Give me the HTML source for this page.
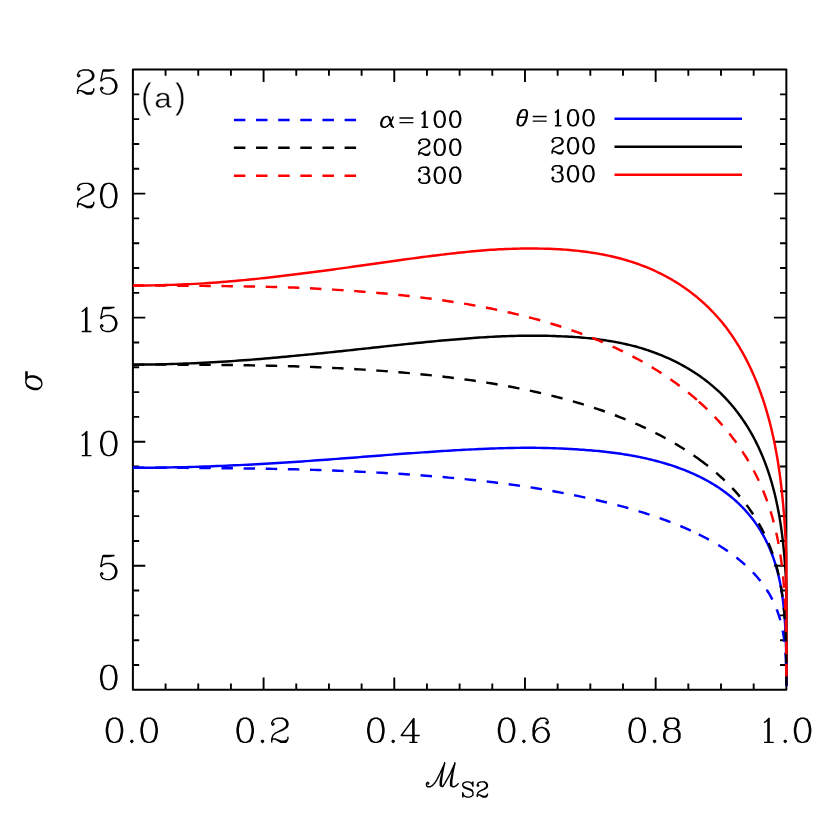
<!DOCTYPE html><html lang="en"><head><meta charset="utf-8"><title>plot</title><style>html,body{margin:0;padding:0;background:#fff;font-family:"Liberation Sans",sans-serif}svg{display:block}</style></head><body>
<svg width="830" height="830" viewBox="0 0 830 830" role="img" aria-label="Plot (a): sigma versus M_S2 for alpha = 100, 200, 300 (dashed) and theta = 100, 200, 300 (solid)">
<desc>(a) sigma vs M_S2; x axis 0.0 0.2 0.4 0.6 0.8 1.0; y axis 0 5 10 15 20 25; legend: alpha=100 200 300 dashed, theta=100 200 300 solid; blue, black, red</desc>
<rect width="830" height="830" fill="#fff"/>
<defs><path id="g0" d="M9 -12 6 -11 4 -8 3 -3 3 0 4 5 6 8 9 9 11 9 14 8 16 5 17 0 17 -3 16 -8 14 -11 11 -12 9 -12M9 -12 7 -11 6 -10 5 -8 4 -3 4 0 5 5 6 7 7 8 9 9M11 9 13 8 14 7 15 5 16 0 16 -3 15 -8 14 -10 13 -11 11 -12"/><path id="g1" d="M6.6 -8.3 8 -9 11 -12 11 9M10 -11 10 9M6.6 9 15.0 9"/><path id="g2" d="M4 -8 5 -7 4 -6 3 -7 3 -8 4 -10 5 -11 8 -12 12 -12 15 -11 16 -10 17 -8 17 -6 16 -4 13 -2 8 0 6 1 4 3 3 6 3 9M12 -12 14 -11 15 -10 16 -8 16 -6 15 -4 12 -2 8 0M3 7 4 6 6 6 11 8 14 8 16 7 17 6M6 6 11 9 15 9 16 8 17 6 17 4"/><path id="g3" d="M4 -8 5 -7 4 -6 3 -7 3 -8 4 -10 5 -11 8 -12 12 -12 15 -11 16 -9 16 -6 15 -4 12 -3 9 -3M12 -12 14 -11 15 -9 15 -6 14 -4 12 -3M12 -3 14 -2 16 0 17 2 17 5 16 7 15 8 12 9 8 9 5 8 4 7 3 5 3 4 4 3 5 4 4 5M15 -1 16 2 16 5 15 7 14 8 12 9"/><path id="g4" d="M12 -10 12 9M13 -12 13 9M13 -12 2 3 18 3M9 9 16 9"/><path id="g5" d="M5 -12 3 -2M3 -2 5 -4 8 -5 11 -5 14 -4 16 -2 17 1 17 3 16 6 14 8 11 9 8 9 5 8 4 7 3 5 3 4 4 3 5 4 4 5M11 -5 13 -4 15 -2 16 1 16 3 15 6 13 8 11 9M5 -12 15 -12M5 -11 10 -11 15 -12"/><path id="g6" d="M15 -9 14 -8 15 -7 16 -8 16 -9 15 -11 13 -12 10 -12 7 -11 5 -9 4 -7 3 -3 3 3 4 6 6 8 9 9 11 9 14 8 16 6 17 3 17 2 16 -1 14 -3 11 -4 10 -4 7 -3 5 -1 4 2M10 -12 8 -11 6 -9 5 -7 4 -3 4 3 5 6 7 8 9 9M11 9 13 8 15 6 16 3 16 2 15 -1 13 -3 11 -4"/><path id="g7" d="M3 -12 3 -6M3 -8 4 -10 6 -12 8 -12 13 -9 15 -9 16 -10 17 -12M4 -10 6 -11 8 -11 13 -9M17 -12 17 -9 16 -6 12 -1 11 1 10 4 10 9M16 -6 11 -1 10 1 9 4 9 9"/><path id="g8" d="M8 -12 5 -11 4 -9 4 -6 5 -4 8 -3 12 -3 15 -4 16 -6 16 -9 15 -11 12 -12 8 -12M8 -12 6 -11 5 -9 5 -6 6 -4 8 -3M12 -3 14 -4 15 -6 15 -9 14 -11 12 -12M8 -3 5 -2 4 -1 3 1 3 5 4 7 5 8 8 9 12 9 15 8 16 7 17 5 17 1 16 -1 15 -2 12 -3M8 -3 6 -2 5 -1 4 1 4 5 5 7 6 8 8 9M12 9 14 8 15 7 16 5 16 1 15 -1 14 -2 12 -3"/><path id="g9" d="M16 -5 15 -2 13 0 10 1 9 1 6 0 4 -2 3 -5 3 -6 4 -9 6 -11 9 -12 11 -12 14 -11 16 -9 17 -6 17 0 16 4 15 6 13 8 10 9 7 9 5 8 4 6 4 5 5 4 6 5 5 6M9 1 7 0 5 -2 4 -5 4 -6 5 -9 7 -11 9 -12M11 -12 13 -11 15 -9 16 -6 16 0 15 4 14 6 12 8 10 9"/><path id="g10" d="M5 7 4 8 5 9 6 8 5 7" fill="#000"/><path id="g11" d="M4 -3 22 -3M4 3 22 3"/><path id="g12" d="M16 -9 17 -12 17 -6 16 -9 14 -11 11 -12 8 -12 5 -11 3 -9 3 -7 4 -5 5 -4 7 -3 13 -1 15 0 17 2M3 -7 5 -5 7 -4 13 -2 15 -1 16 0 17 2 17 6 15 8 12 9 9 9 6 8 4 6 3 3 3 9 4 6"/><path id="g13" d="M10 -5 7 -4 5 -2 4 0 3 3 3 6 4 8 7 9 9 9 11 8 14 5 16 2 18 -2 19 -5M10 -5 8 -4 6 -2 5 0 4 3 4 6 5 8 7 9M10 -5 12 -5 14 -4 15 -2 17 6 18 8 19 9M12 -5 13 -4 14 -2 16 6 17 8 19 9 20 9"/><path id="g14" d="M19 -5 9 -5 6 -4 4 -1 3 2 3 5 4 7 5 8 7 9 9 9 12 8 14 5 15 2 15 -1 14 -3 13 -4 11 -5M9 -5 7 -4 5 -1 4 2 4 6 5 8M9 9 11 8 13 5 14 2 14 -2 13 -4M13 -4 19 -4"/><path id="g15" d="M11 -12 8 -11 6 -8 5 -6 4 -3 3 2 3 6 4 8 6 9 8 9 11 8 13 5 14 3 15 0 16 -5 16 -9 15 -11 13 -12 11 -12M11 -12 9 -11 7 -8 6 -6 5 -3 4 2 4 6 5 8 6 9M8 9 10 8 12 5 13 3 14 0 15 -5 15 -9 14 -11 13 -12M5 -2 14 -2"/><path id="g16" d="M14 -12 10 -3 7 3 5 6 3 8 1 9 -1 9 -2 8 -2 6 -1 5 0 6 -1 7M14 -12 12 -5 11 -1 10 4 10 8 12 9M14 -12 13 -8 12 -3 11 4 11 8 12 9M23 -12 19 -3 14 6 12 9M23 -12 21 -5 20 -1 19 4 19 8 21 9 22 9 24 8 26 6M23 -12 22 -8 21 -3 20 4 20 8 21 9"/><path id="g17" d="M11 -16 9 -14 7 -11 5 -7 4 -2 4 2 5 7 7 11 9 14 11 16"/><path id="g18" d="M3 -16 5 -14 7 -11 9 -7 10 -2 10 2 9 7 7 11 5 14 3 16"/><path id="g19" d="M15 -5 15 9M15 -2 13 -4 11 -5 8 -5 6 -4 4 -2 3 1 3 3 4 6 6 8 8 9 11 9 13 8 15 6"/></defs>
<g fill="none" stroke="#000" stroke-linecap="round" stroke-linejoin="round">
<rect x="132.9" y="69.55" width="653.45" height="620.25" stroke-width="2.0"/>
<path d="M165.57 689.8v-6.3M165.57 69.55v6.3M198.25 689.8v-6.3M198.25 69.55v6.3M230.92 689.8v-6.3M230.92 69.55v6.3M263.59 689.8v-12.4M263.59 69.55v12.4M296.26 689.8v-6.3M296.26 69.55v6.3M328.94 689.8v-6.3M328.94 69.55v6.3M361.61 689.8v-6.3M361.61 69.55v6.3M394.28 689.8v-12.4M394.28 69.55v12.4M426.95 689.8v-6.3M426.95 69.55v6.3M459.62 689.8v-6.3M459.62 69.55v6.3M492.30 689.8v-6.3M492.30 69.55v6.3M524.97 689.8v-12.4M524.97 69.55v12.4M557.64 689.8v-6.3M557.64 69.55v6.3M590.32 689.8v-6.3M590.32 69.55v6.3M622.99 689.8v-6.3M622.99 69.55v6.3M655.66 689.8v-12.4M655.66 69.55v12.4M688.33 689.8v-6.3M688.33 69.55v6.3M721.00 689.8v-6.3M721.00 69.55v6.3M753.68 689.8v-6.3M753.68 69.55v6.3M132.9 664.99h6.3M786.35 664.99h-6.3M132.9 640.18h6.3M786.35 640.18h-6.3M132.9 615.37h6.3M786.35 615.37h-6.3M132.9 590.56h6.3M786.35 590.56h-6.3M132.9 565.75h12.4M786.35 565.75h-12.4M132.9 540.94h6.3M786.35 540.94h-6.3M132.9 516.13h6.3M786.35 516.13h-6.3M132.9 491.32h6.3M786.35 491.32h-6.3M132.9 466.51h6.3M786.35 466.51h-6.3M132.9 441.70h12.4M786.35 441.70h-12.4M132.9 416.89h6.3M786.35 416.89h-6.3M132.9 392.08h6.3M786.35 392.08h-6.3M132.9 367.27h6.3M786.35 367.27h-6.3M132.9 342.46h6.3M786.35 342.46h-6.3M132.9 317.65h12.4M786.35 317.65h-12.4M132.9 292.84h6.3M786.35 292.84h-6.3M132.9 268.03h6.3M786.35 268.03h-6.3M132.9 243.22h6.3M786.35 243.22h-6.3M132.9 218.41h6.3M786.35 218.41h-6.3M132.9 193.60h12.4M786.35 193.60h-12.4M132.9 168.79h6.3M786.35 168.79h-6.3M132.9 143.98h6.3M786.35 143.98h-6.3M132.9 119.17h6.3M786.35 119.17h-6.3M132.9 94.36h6.3M786.35 94.36h-6.3" stroke-width="1.9" stroke-linecap="butt"/>
</g>
<clipPath id="cp"><rect x="129.9" y="69.55" width="659.45" height="616.45"/></clipPath>
<g fill="none" stroke-width="2.45" stroke-linejoin="round">
<g clip-path="url(#cp)">
<path d="M132.90 467.75 137.79 467.75 142.65 467.73 147.49 467.70 152.31 467.66 157.10 467.61 161.87 467.55 166.61 467.48 171.33 467.40 176.02 467.31 180.69 467.21 185.34 467.10 189.96 466.98 194.56 466.85 199.14 466.71 203.69 466.56 208.22 466.41 212.72 466.25 217.21 466.07 221.66 465.90 226.10 465.71 230.51 465.52 234.90 465.32 239.26 465.11 243.60 464.90 247.92 464.68 252.22 464.46 256.49 464.23 260.74 463.99 264.97 463.75 269.17 463.51 273.36 463.26 277.52 463.00 281.65 462.75 285.77 462.48 289.86 462.22 293.93 461.95 297.98 461.68 302.00 461.41 306.00 461.13 309.98 460.85 313.94 460.57 317.88 460.29 321.80 460.00 325.69 459.72 329.56 459.43 333.41 459.14 337.24 458.85 341.04 458.57 344.83 458.28 348.59 457.99 352.33 457.70 356.05 457.41 359.75 457.13 363.43 456.84 367.08 456.55 370.72 456.27 374.33 455.99 377.93 455.71 381.50 455.43 385.05 455.15 388.58 454.88 392.09 454.61 395.58 454.34 399.05 454.09 402.50 453.83 405.92 453.58 409.33 453.34 412.72 453.10 416.08 452.86 419.43 452.62 422.75 452.39 426.06 452.16 429.34 451.94 432.61 451.72 435.85 451.51 439.08 451.30 442.29 451.09 445.47 450.89 448.64 450.70 451.78 450.51 454.91 450.33 458.02 450.15 461.11 449.98 464.17 449.81 467.22 449.65 470.25 449.49 473.26 449.35 476.25 449.20 479.23 449.07 482.18 448.94 485.11 448.81 488.03 448.70 490.92 448.58 493.80 448.48 496.66 448.38 499.50 448.29 502.32 448.21 505.13 448.13 507.91 448.07 510.68 448.00 513.42 447.95 516.15 447.90 518.86 447.86 521.56 447.83 524.23 447.80 526.89 447.80 529.53 447.80 532.15 447.81 534.75 447.83 537.33 447.86 539.90 447.89 542.45 447.93 544.98 447.98 547.50 448.04 549.99 448.11 552.47 448.18 554.93 448.26 557.38 448.35 559.81 448.44 562.22 448.55 564.61 448.66 566.99 448.78 569.34 448.91 571.69 449.04 574.01 449.19 576.32 449.34 578.61 449.50 580.88 449.67 583.14 449.84 585.38 450.00 587.61 450.16 589.82 450.33 592.01 450.51 594.18 450.69 596.34 450.89 598.49 451.09 600.61 451.29 602.72 451.51 604.82 451.74 606.90 451.97 608.96 452.21 611.01 452.46 613.04 452.72 615.05 452.98 617.05 453.26 619.04 453.54 621.00 453.83 622.96 454.12 624.89 454.43 626.82 454.74 628.72 455.06 630.61 455.39 632.49 455.72 634.35 456.07 636.20 456.42 638.03 456.78 639.85 457.14 641.65 457.51 643.43 457.90 645.20 458.28 646.96 458.68 648.70 459.08 650.43 459.49 652.15 459.91 653.84 460.34 655.53 460.77 657.20 461.21 658.85 461.65 660.50 462.10 662.12 462.56 663.74 463.02 665.34 463.49 666.92 463.97 668.49 464.46 670.05 464.95 671.59 465.45 673.12 465.95 674.64 466.46 676.14 466.98 677.63 467.51 679.11 468.04 680.57 468.58 682.02 469.12 683.46 469.68 684.88 470.23 686.29 470.80 687.68 471.37 689.07 471.94 690.44 472.53 691.79 473.12 693.14 473.71 694.47 474.31 695.79 474.92 697.09 475.53 698.39 476.15 699.67 476.77 700.94 477.40 702.19 478.04 703.44 478.68 704.67 479.33 705.89 479.98 707.09 480.64 708.29 481.30 709.47 481.97 710.64 482.65 711.80 483.33 712.95 484.01 714.08 484.71 715.21 485.40 716.32 486.10 717.42 486.81 718.51 487.52 719.58 488.24 720.65 488.96 721.70 489.69 722.75 490.43 723.78 491.17 724.80 491.92 725.81 492.67 726.80 493.43 727.79 494.20 728.77 494.96 729.73 495.74 730.69 496.51 731.63 497.29 732.56 498.08 733.48 498.87 734.40 499.66 735.30 500.46 736.19 501.26 737.07 502.07 737.94 502.88 738.80 503.70 739.65 504.52 740.48 505.34 741.31 506.17 742.13 507.00 742.94 507.84 743.74 508.68 744.53 509.52 745.31 510.37 746.08 511.22 746.84 512.08 747.59 512.94 748.33 513.80 749.06 514.67 749.78 515.54 750.49 516.41 751.20 517.29 751.89 518.17 752.58 519.06 753.25 519.95 753.92 520.84 754.57 521.74 755.22 522.64 755.86 523.55 756.49 524.45 757.12 525.36 757.73 526.28 758.33 527.20 758.93 528.12 759.52 529.04 760.10 529.97 760.67 530.91 761.23 531.84 761.78 532.78 762.33 533.72 762.87 534.67 763.40 535.62 763.92 536.57 764.43 537.53 764.94 538.49 765.44 539.45 765.93 540.41 766.41 541.38 766.88 542.36 767.35 543.33 767.81 544.31 768.26 545.29 768.71 546.28 769.14 547.27 769.57 548.26 770.00 549.26 770.41 550.26 770.82 551.26 771.22 552.26 771.62 553.27 772.01 554.28 772.39 555.30 772.76 556.32 773.13 557.34 773.49 558.36 773.84 559.39 774.19 560.42 774.53 561.46 774.86 562.50 775.19 563.54 775.51 564.58 775.83 565.63 776.14 566.68 776.44 567.74 776.74 568.80 777.03 569.86 777.32 570.92 777.60 571.99 777.87 573.06 778.14 574.14 778.40 575.22 778.66 576.30 778.91 577.39 779.15 578.47 779.39 579.57 779.63 580.66 779.86 581.76 780.08 582.87 780.30 583.97 780.51 585.08 780.72 586.20 780.92 587.31 781.12 588.44 781.32 589.56 781.50 590.69 781.69 591.82 781.87 592.96 782.04 594.10 782.21 595.24 782.38 596.39 782.54 597.54 782.70 598.70 782.85 599.86 783.00 601.02 783.14 602.19 783.28 603.36 783.41 604.54 783.55 605.72 783.67 606.91 783.80 608.10 783.92 609.29 784.03 610.49 784.14 611.69 784.25 612.90 784.36 614.11 784.46 615.33 784.56 616.55 784.65 617.77 784.74 619.00 784.83 620.24 784.91 621.48 785.00 622.73 785.07 623.98 785.15 625.23 785.22 626.49 785.29 627.76 785.36 629.03 785.42 630.31 785.48 631.59 785.54 632.88 785.59 634.17 785.65 635.47 785.70 636.78 785.74 638.09 785.79 639.41 785.83 640.73 785.87 642.06 785.91 643.39 785.95 644.74 785.98 646.08 786.02 647.44 786.05 648.80 786.07 650.17 786.10 651.54 786.13 652.92 786.15 654.31 786.17 655.70 786.19 657.10 786.21 658.51 786.23 659.92 786.24 661.34 786.26 662.76 786.27 664.19 786.28 665.63 786.29 667.07 786.30 668.51 786.31 669.96 786.32 671.40 786.32 672.85 786.33 674.30 786.33 675.74 786.34 677.17 786.34 678.60 786.34 680.01 786.34 681.40 786.35 682.76 786.35 684.08 786.35 685.35 786.35 686.54 786.35 687.64 786.35 688.60 786.35 689.37 786.35 689.80" stroke="#0000ff"/>
<path d="M132.90 364.62 137.79 364.60 142.65 364.56 147.49 364.51 152.31 364.44 157.10 364.36 161.87 364.26 166.61 364.15 171.33 364.02 176.02 363.88 180.69 363.72 185.34 363.56 189.96 363.37 194.56 363.18 199.14 362.97 203.69 362.75 208.22 362.52 212.72 362.28 217.21 362.02 221.66 361.75 226.10 361.47 230.51 361.18 234.90 360.89 239.26 360.58 243.60 360.26 247.92 359.94 252.22 359.60 256.49 359.26 260.74 358.91 264.97 358.56 269.17 358.20 273.36 357.83 277.52 357.45 281.65 357.07 285.77 356.69 289.86 356.30 293.93 355.90 297.98 355.51 302.00 355.13 306.00 354.75 309.98 354.36 313.94 353.96 317.88 353.57 321.80 353.17 325.69 352.77 329.56 352.37 333.41 351.97 337.24 351.57 341.04 351.17 344.83 350.76 348.59 350.36 352.33 349.96 356.05 349.55 359.75 349.15 363.43 348.75 367.08 348.35 370.72 347.96 374.33 347.56 377.93 347.17 381.50 346.78 385.05 346.39 388.58 346.01 392.09 345.63 395.58 345.25 399.05 344.88 402.50 344.51 405.92 344.15 409.33 343.79 412.72 343.44 416.08 343.09 419.43 342.75 422.75 342.41 426.06 342.08 429.34 341.76 432.61 341.44 435.85 341.13 439.08 340.83 442.29 340.53 445.47 340.24 448.64 339.96 451.78 339.69 454.91 339.42 458.02 339.16 461.11 338.91 464.17 338.67 467.22 338.43 470.25 338.21 473.26 337.99 476.25 337.78 479.23 337.58 482.18 337.39 485.11 337.21 488.03 337.04 490.92 336.88 493.80 336.73 496.66 336.58 499.50 336.45 502.32 336.33 505.13 336.21 507.91 336.11 510.68 336.02 513.42 335.93 516.15 335.86 518.86 335.80 521.56 335.75 524.23 335.71 526.89 335.68 529.53 335.66 532.15 335.65 534.75 335.65 537.33 335.67 539.90 335.69 542.45 335.73 544.98 335.77 547.50 335.83 549.99 335.90 552.47 335.98 554.93 336.07 557.38 336.18 559.81 336.26 562.22 336.35 564.61 336.45 566.99 336.56 569.34 336.68 571.69 336.82 574.01 336.97 576.32 337.13 578.61 337.30 580.88 337.48 583.14 337.68 585.38 337.88 587.61 338.10 589.82 338.33 592.03 338.57 594.22 338.82 596.40 339.09 598.57 339.37 600.71 339.65 602.85 339.95 604.96 340.26 607.06 340.59 609.14 340.92 611.21 341.27 613.26 341.62 615.30 341.99 617.32 342.37 619.32 342.76 621.31 343.17 623.28 343.58 625.24 344.00 627.18 344.44 629.11 344.89 631.02 345.35 632.91 345.82 634.79 346.30 636.65 346.79 638.50 347.33 640.34 347.87 642.16 348.43 643.96 348.99 645.75 349.57 647.53 350.16 649.28 350.75 651.03 351.36 652.76 351.98 654.48 352.61 656.18 353.25 657.86 353.89 659.54 354.55 661.19 355.22 662.84 355.90 664.47 356.59 666.08 357.28 667.68 357.99 669.27 358.71 670.84 359.43 672.40 360.17 673.95 360.92 675.48 361.67 677.00 362.43 678.50 363.21 679.99 363.99 681.47 364.78 682.93 365.58 684.38 366.39 685.82 367.21 687.24 368.04 688.65 368.87 690.05 369.72 691.43 370.57 692.80 371.43 694.16 372.30 695.51 373.18 696.84 374.07 698.16 374.96 699.46 375.86 700.76 376.77 702.04 377.69 703.31 378.62 704.56 379.56 705.81 380.50 707.04 381.45 708.26 382.41 709.46 383.38 710.66 384.35 711.84 385.33 713.01 386.32 714.17 387.32 715.31 388.32 716.45 389.33 717.57 390.35 718.68 391.38 719.78 392.41 720.87 393.45 721.95 394.50 723.00 395.56 724.05 396.63 725.08 397.71 726.10 398.79 727.11 399.88 728.10 400.98 729.09 402.08 730.07 403.20 731.03 404.31 731.99 405.44 732.93 406.57 733.86 407.70 734.78 408.84 735.70 409.99 736.60 411.15 737.49 412.31 738.37 413.47 739.24 414.65 740.10 415.82 740.95 417.01 741.78 418.20 742.61 419.39 743.43 420.59 744.24 421.80 745.04 423.01 745.83 424.23 746.61 425.45 747.38 426.68 748.14 427.92 748.89 429.16 749.63 430.40 750.36 431.65 751.08 432.91 751.79 434.17 752.50 435.43 753.19 436.70 753.88 437.98 754.55 439.26 755.22 440.55 755.87 441.84 756.52 443.14 757.16 444.44 757.79 445.75 758.42 447.06 759.03 448.38 759.63 449.70 760.23 451.02 760.82 452.35 761.40 453.69 761.97 455.02 762.53 456.36 763.08 457.70 763.63 459.05 764.17 460.40 764.70 461.76 765.22 463.12 765.73 464.49 766.24 465.86 766.74 467.24 767.23 468.62 767.71 470.00 768.18 471.39 768.65 472.79 769.11 474.19 769.56 475.59 770.01 477.00 770.44 478.42 770.87 479.84 771.30 481.26 771.71 482.69 772.12 484.12 772.52 485.56 772.92 487.00 773.31 488.45 773.69 489.90 774.06 491.36 774.43 492.82 774.79 494.29 775.14 495.76 775.49 497.24 775.83 498.72 776.16 500.20 776.49 501.69 776.81 503.19 777.13 504.69 777.44 506.19 777.74 507.70 778.04 509.22 778.33 510.74 778.62 512.26 778.90 513.79 779.17 515.33 779.44 516.87 779.70 518.41 779.96 519.96 780.21 521.52 780.45 523.08 780.69 524.65 780.93 526.22 781.16 527.79 781.38 529.37 781.60 530.96 781.81 532.55 782.02 534.15 782.22 535.75 782.42 537.36 782.62 538.97 782.80 540.59 782.99 542.22 783.17 543.85 783.34 545.49 783.51 547.13 783.68 548.78 783.84 550.43 784.00 552.09 784.15 553.76 784.30 555.43 784.44 557.11 784.58 558.80 784.71 560.49 784.85 562.19 784.97 563.89 785.10 565.61 785.22 567.32 785.33 569.05 785.44 570.78 785.55 572.52 785.66 574.27 785.76 576.02 785.86 577.78 785.95 579.55 786.04 581.33 786.13 583.11 786.21 584.91 786.30 586.71 786.35 588.52 786.35 590.33 786.35 592.16 786.35 593.99 786.35 595.84 786.35 597.69 786.35 599.55 786.35 601.42 786.35 603.30 786.35 605.19 786.35 607.09 786.35 609.00 786.35 610.92 786.35 612.86 786.35 614.80 786.35 616.75 786.35 618.72 786.35 620.70 786.35 622.69 786.35 624.69 786.35 626.70 786.35 628.73 786.35 630.77 786.35 632.83 786.35 634.89 786.35 636.98 786.35 639.07 786.35 641.19 786.35 643.31 786.35 645.46 786.35 647.62 786.35 649.79 786.35 651.98 786.35 654.19 786.35 656.41 786.35 658.65 786.35 660.91 786.35 663.18 786.35 665.46 786.35 667.75 786.35 670.06 786.35 672.36 786.35 674.67 786.35 676.96 786.35 679.23 786.35 681.45 786.35 683.59 786.35 685.62 786.35 687.44 786.35 688.94 786.35 689.80" stroke="#000000"/>
<path d="M132.90 285.60 137.79 285.58 142.65 285.54 147.49 285.48 152.31 285.40 157.10 285.30 161.87 285.18 166.61 285.04 171.33 284.89 176.02 284.72 180.69 284.53 185.34 284.33 189.96 284.11 194.56 283.87 199.14 283.62 203.69 283.36 208.22 283.07 212.72 282.77 217.21 282.43 221.66 282.08 226.10 281.72 230.51 281.34 234.90 280.95 239.26 280.55 243.60 280.14 247.92 279.72 252.22 279.29 256.49 278.85 260.74 278.40 264.97 277.95 269.17 277.48 273.36 277.01 277.52 276.53 281.65 276.04 285.77 275.55 289.86 275.05 293.93 274.54 297.98 274.04 302.00 273.54 306.00 273.03 309.98 272.52 313.94 272.01 317.88 271.50 321.80 270.98 325.69 270.46 329.56 269.94 333.41 269.42 337.24 268.90 341.04 268.38 344.83 267.86 348.59 267.34 352.33 266.82 356.05 266.30 359.75 265.78 363.43 265.26 367.08 264.75 370.72 264.24 374.33 263.73 377.93 263.22 381.50 262.72 385.05 262.22 388.58 261.73 392.09 261.24 395.58 260.75 399.05 260.27 402.50 259.80 405.92 259.33 409.33 258.86 412.72 258.41 416.08 257.96 419.43 257.51 422.75 257.08 426.06 256.65 429.34 256.23 432.61 255.81 435.85 255.41 439.08 255.01 442.29 254.62 445.47 254.24 448.64 253.87 451.78 253.51 454.91 253.16 458.02 252.82 461.11 252.49 464.17 252.17 467.22 251.86 470.25 251.56 473.26 251.27 476.25 250.99 479.23 250.72 482.18 250.46 485.11 250.22 488.03 250.01 490.92 249.83 493.80 249.66 496.66 249.49 499.50 249.34 502.32 249.21 505.13 249.08 507.91 248.97 510.68 248.87 513.42 248.78 516.15 248.71 518.86 248.64 521.56 248.59 524.23 248.56 526.89 248.53 529.53 248.52 532.15 248.53 534.75 248.54 537.33 248.57 539.90 248.60 542.45 248.64 544.98 248.70 547.50 248.76 549.99 248.84 552.47 248.94 554.93 249.05 557.38 249.17 559.81 249.30 562.22 249.45 564.61 249.62 566.99 249.80 569.34 249.99 571.69 250.19 574.01 250.42 576.32 250.65 578.61 250.90 580.88 251.16 583.14 251.44 585.38 251.73 587.61 252.03 589.82 252.35 592.03 252.69 594.23 253.03 596.41 253.39 598.57 253.77 600.72 254.16 602.86 254.56 604.97 254.98 607.07 255.41 609.16 255.85 611.23 256.31 613.28 256.79 615.32 257.27 617.34 257.77 619.34 258.29 621.33 258.81 623.31 259.35 625.26 259.91 627.21 260.48 629.13 261.06 631.05 261.65 632.94 262.26 634.82 262.88 636.69 263.52 638.54 264.18 640.38 264.85 642.20 265.54 644.00 266.24 645.79 266.95 647.57 267.68 649.33 268.42 651.08 269.17 652.81 269.93 654.52 270.71 656.23 271.49 657.91 272.29 659.59 273.11 661.25 273.93 662.89 274.77 664.52 275.62 666.14 276.48 667.74 277.35 669.33 278.23 670.90 279.13 672.46 280.04 674.01 280.96 675.54 281.89 677.06 282.83 678.57 283.78 680.06 284.75 681.54 285.72 683.00 286.71 684.45 287.71 685.89 288.72 687.32 289.74 688.73 290.77 690.12 291.81 691.51 292.86 692.88 293.92 694.24 294.99 695.59 296.07 696.92 297.17 698.24 298.27 699.55 299.38 700.84 300.50 702.12 301.64 703.39 302.78 704.65 303.93 705.89 305.09 707.13 306.26 708.35 307.45 709.55 308.64 710.75 309.83 711.93 311.04 713.10 312.26 714.26 313.49 715.41 314.72 716.54 315.97 717.67 317.22 718.78 318.49 719.88 319.76 720.97 321.04 722.05 322.33 723.10 323.63 724.15 324.95 725.18 326.28 726.20 327.61 727.21 328.95 728.20 330.30 729.19 331.66 730.17 333.03 731.13 334.40 732.09 335.79 733.03 337.18 733.96 338.57 734.88 339.98 735.80 341.39 736.70 342.81 737.59 344.24 738.47 345.67 739.34 347.11 740.20 348.56 741.05 350.02 741.88 351.48 742.71 352.95 743.53 354.43 744.34 355.91 745.14 357.40 745.93 358.90 746.71 360.41 747.48 361.92 748.24 363.43 748.99 364.96 749.73 366.49 750.46 368.03 751.18 369.57 751.89 371.12 752.60 372.68 753.29 374.24 753.98 375.81 754.65 377.39 755.32 378.97 755.97 380.56 756.62 382.15 757.26 383.76 757.89 385.36 758.52 386.98 759.13 388.59 759.73 390.22 760.33 391.85 760.92 393.49 761.50 395.13 762.07 396.77 762.63 398.41 763.18 400.06 763.73 401.72 764.27 403.38 764.80 405.05 765.32 406.72 765.83 408.40 766.34 410.09 766.84 411.78 767.33 413.48 767.81 415.18 768.28 416.89 768.75 418.60 769.21 420.33 769.66 422.05 770.11 423.79 770.54 425.52 770.97 427.27 771.40 429.02 771.81 430.77 772.22 432.54 772.62 434.30 773.02 436.08 773.41 437.86 773.79 439.64 774.16 441.43 774.53 443.23 774.89 445.04 775.24 446.84 775.59 448.66 775.93 450.48 776.26 452.31 776.59 454.14 776.91 455.98 777.23 457.82 777.54 459.67 777.84 461.53 778.14 463.39 778.43 465.26 778.72 467.14 779.00 469.02 779.27 470.91 779.54 472.80 779.80 474.70 780.06 476.61 780.31 478.52 780.55 480.44 780.79 482.37 781.03 484.30 781.26 486.24 781.48 488.18 781.70 490.14 781.91 492.09 782.12 494.06 782.32 496.03 782.52 498.01 782.72 500.00 782.90 501.99 783.09 503.99 783.27 506.00 783.44 508.01 783.61 510.04 783.78 512.06 783.94 514.10 784.10 516.15 784.25 518.20 784.40 520.26 784.54 522.33 784.68 524.40 784.81 526.49 784.95 528.58 785.07 530.68 785.20 532.79 785.32 534.90 785.43 537.03 785.54 539.17 785.65 541.31 785.76 543.46 785.86 545.62 785.96 547.80 786.05 549.98 786.14 552.17 786.23 554.37 786.31 556.58 786.35 558.80 786.35 561.04 786.35 563.28 786.35 565.53 786.35 567.80 786.35 570.07 786.35 572.36 786.35 574.66 786.35 576.97 786.35 579.30 786.35 581.64 786.35 583.99 786.35 586.35 786.35 588.73 786.35 591.12 786.35 593.53 786.35 595.95 786.35 598.39 786.35 600.84 786.35 603.31 786.35 605.79 786.35 608.29 786.35 610.82 786.35 613.35 786.35 615.91 786.35 618.49 786.35 621.09 786.35 623.70 786.35 626.34 786.35 629.00 786.35 631.69 786.35 634.39 786.35 637.13 786.35 639.88 786.35 642.67 786.35 645.48 786.35 648.31 786.35 651.18 786.35 654.07 786.35 656.99 786.35 659.94 786.35 662.91 786.35 665.90 786.35 668.92 786.35 671.94 786.35 674.96 786.35 677.96 786.35 680.90 786.35 683.73 786.35 686.33 786.35 688.52 786.35 689.80" stroke="#ff0000"/>
<path d="M132.90 467.75 137.79 467.75 142.65 467.76 147.49 467.76 152.31 467.77 157.10 467.78 161.87 467.79 166.61 467.81 171.33 467.83 176.02 467.84 180.69 467.87 185.34 467.89 189.96 467.92 194.56 467.94 199.14 467.97 203.69 468.01 208.22 468.04 212.72 468.08 217.21 468.12 221.66 468.16 226.10 468.20 230.51 468.25 234.90 468.30 239.26 468.35 243.60 468.41 247.92 468.47 252.22 468.53 256.49 468.59 260.74 468.66 264.97 468.72 269.17 468.80 273.36 468.87 277.52 468.95 281.65 469.03 285.77 469.11 289.86 469.20 293.93 469.29 297.98 469.39 302.00 469.51 306.00 469.63 309.98 469.76 313.94 469.88 317.88 470.01 321.80 470.15 325.69 470.29 329.56 470.43 333.41 470.57 337.24 470.72 341.04 470.87 344.83 471.03 348.59 471.19 352.33 471.35 356.05 471.52 359.75 471.69 363.43 471.87 367.08 472.04 370.72 472.23 374.33 472.42 377.93 472.61 381.50 472.80 385.05 473.00 388.58 473.21 392.09 473.41 395.58 473.63 399.05 473.84 402.50 474.06 405.92 474.29 409.33 474.52 412.72 474.75 416.08 474.99 419.43 475.23 422.75 475.48 426.06 475.73 429.34 475.98 432.61 476.24 435.85 476.51 439.08 476.77 442.29 477.04 445.47 477.32 448.64 477.60 451.78 477.88 454.91 478.17 458.02 478.46 461.11 478.76 464.17 479.06 467.22 479.36 470.25 479.67 473.26 479.99 476.25 480.31 479.23 480.63 482.18 480.96 485.11 481.30 488.03 481.63 490.92 481.98 493.80 482.32 496.66 482.67 499.50 483.03 502.32 483.39 505.13 483.75 507.91 484.12 510.68 484.49 513.42 484.87 516.15 485.25 518.86 485.64 521.56 486.03 524.23 486.43 526.89 486.82 529.53 487.23 532.15 487.64 534.75 488.05 537.33 488.46 539.90 488.88 542.45 489.31 544.98 489.74 547.50 490.17 549.99 490.60 552.47 491.05 554.93 491.49 557.38 491.94 559.81 492.39 562.22 492.85 564.61 493.31 566.99 493.77 569.34 494.24 571.69 494.71 574.01 495.19 576.32 495.66 578.61 496.15 580.88 496.63 583.14 497.12 585.38 497.60 587.61 498.07 589.82 498.55 592.01 499.03 594.18 499.51 596.34 500.00 598.49 500.49 600.61 500.98 602.72 501.48 604.82 501.98 606.90 502.49 608.96 503.00 611.01 503.51 613.04 504.02 615.05 504.54 617.05 505.06 619.04 505.59 621.00 506.11 622.96 506.64 624.89 507.18 626.82 507.71 628.72 508.25 630.61 508.80 632.49 509.34 634.35 509.89 636.20 510.44 638.03 511.00 639.85 511.55 641.65 512.11 643.43 512.67 645.20 513.24 646.96 513.81 648.70 514.38 650.43 514.95 652.15 515.53 653.84 516.10 655.53 516.68 657.20 517.26 658.85 517.83 660.50 518.41 662.12 518.99 663.74 519.58 665.34 520.16 666.92 520.75 668.49 521.34 670.05 521.93 671.59 522.53 673.12 523.13 674.64 523.73 676.14 524.33 677.63 524.93 679.11 525.54 680.57 526.14 682.02 526.75 683.46 527.36 684.88 527.98 686.29 528.59 687.68 529.21 689.07 529.83 690.44 530.45 691.79 531.07 693.14 531.70 694.47 532.32 695.79 532.95 697.09 533.58 698.39 534.21 698.79 534.41M698.79 534.41 699.67 534.84 700.94 535.48 702.19 536.11 703.44 536.75 704.67 537.39 705.89 538.03 707.09 538.67 708.29 539.32 709.47 539.96 710.64 540.61 711.80 541.26 712.95 541.91 714.08 542.56 715.21 543.21 716.32 543.86 717.42 544.52 718.51 545.17 719.58 545.83 720.65 546.49 721.70 547.16 722.75 547.83 723.78 548.51 724.80 549.18 725.81 549.86 726.80 550.54 727.79 551.22 728.77 551.90 729.73 552.58 730.69 553.26 731.63 553.95 732.56 554.63 733.48 555.32 734.40 556.00 735.30 556.69 736.19 557.38 737.07 558.07 737.94 558.76 738.80 559.45 739.65 560.14 740.48 560.83 741.31 561.53 742.13 562.22 742.94 562.92 743.74 563.62 744.53 564.31 745.31 565.01 746.08 565.71 746.84 566.41 747.59 567.11 748.33 567.82 749.06 568.52 749.78 569.22 750.49 569.93 751.20 570.63 751.89 571.34 752.58 572.05 753.25 572.76 753.92 573.46 754.57 574.18 755.22 574.89 755.86 575.60 756.49 576.31 757.12 577.02 757.73 577.74 758.33 578.46 758.93 579.17 759.52 579.89 760.10 580.61 760.67 581.33 761.23 582.05 761.78 582.77 762.33 583.49 762.87 584.21 763.40 584.94 763.92 585.66 764.43 586.39 764.94 587.12 765.44 587.85 765.93 588.57 766.41 589.31 766.88 590.04 767.35 590.77 767.81 591.50 768.26 592.24 768.71 592.97 769.14 593.71 769.57 594.45 770.00 595.19 770.41 595.93 770.82 596.67 771.22 597.41 771.62 598.15 772.01 598.90 772.39 599.64 772.76 600.39 773.13 601.14 773.49 601.89 773.84 602.64 774.19 603.39 774.53 604.14 774.86 604.90 775.19 605.65 775.51 606.41 775.83 607.17 776.14 607.93 776.44 608.69 776.74 609.46 777.03 610.22 777.32 610.99 777.60 611.75 777.87 612.52 778.14 613.29 778.40 614.06 778.66 614.84 778.91 615.61 779.15 616.39 779.39 617.17 779.63 617.95 779.86 618.73 780.08 619.51 780.30 620.29 780.51 621.08 780.72 621.87 780.92 622.66 781.12 623.45 781.32 624.24 781.50 625.04 781.69 625.84 781.87 626.63 782.04 627.44 782.21 628.24 782.38 629.04 782.54 629.85 782.70 630.66 782.85 631.47 783.00 632.28 783.14 633.10 783.28 633.91 783.41 634.73 783.55 635.55 783.67 636.38 783.80 637.20 783.92 638.03 784.03 638.86 784.14 639.69 784.25 640.53 784.36 641.36 784.46 642.20 784.56 643.04 784.65 643.89 784.74 644.73 784.83 645.58 784.91 646.43 785.00 647.29 785.07 648.14 785.15 649.00 785.22 649.86 785.29 650.73 785.36 651.59 785.42 652.46 785.48 653.33 785.54 654.21 785.59 655.08 785.65 655.96 785.70 656.84 785.74 657.73 785.79 658.61 785.83 659.50 785.87 660.39 785.91 661.29 785.95 662.18 785.98 663.08 786.02 663.98 786.05 664.88 786.07 665.79 786.10 666.69 786.13 667.60 786.15 668.51 786.17 669.42 786.19 670.33 786.21 671.24 786.23 672.15 786.24 673.06 786.26 673.97 786.27 674.88 786.28 675.79 786.29 676.69 786.30 677.59 786.31 678.49 786.32 679.38 786.32 680.26 786.33 681.14 786.33 682.00 786.34 682.85 786.34 683.69 786.34 684.50 786.34 685.30 786.35 686.06 786.35 686.79 786.35 687.48 786.35 688.12 786.35 688.70 786.35 689.19 786.35 689.58 786.35 689.80" stroke="#0000ff" stroke-dasharray="11.48 10.66" stroke-dashoffset="0"/>
<path d="M132.90 364.62 137.79 364.61 142.65 364.60 147.49 364.60 152.31 364.60 157.10 364.60 161.87 364.61 166.61 364.61 171.33 364.63 176.02 364.64 180.69 364.66 185.34 364.68 189.96 364.71 194.56 364.73 199.14 364.76 203.69 364.80 208.22 364.84 212.72 364.88 217.21 364.92 221.66 364.96 226.10 365.01 230.51 365.06 234.90 365.11 239.26 365.17 243.60 365.24 247.92 365.30 252.22 365.37 256.49 365.45 260.74 365.53 264.97 365.61 269.17 365.70 273.36 365.79 277.52 365.88 281.65 365.98 285.77 366.09 289.86 366.20 293.93 366.31 297.98 366.44 302.00 366.58 306.00 366.74 309.98 366.89 313.94 367.05 317.88 367.22 321.80 367.39 325.69 367.57 329.56 367.75 333.41 367.93 337.24 368.13 341.04 368.32 344.83 368.53 348.59 368.73 352.33 368.95 356.05 369.17 359.75 369.39 363.43 369.62 367.08 369.86 370.72 370.10 374.33 370.35 377.93 370.60 381.50 370.86 385.05 371.12 388.58 371.40 392.09 371.67 395.58 371.96 399.05 372.25 402.50 372.54 405.92 372.85 409.33 373.15 412.72 373.47 416.08 373.79 419.43 374.12 422.75 374.45 426.06 374.79 429.34 375.13 432.61 375.48 435.85 375.83 439.08 376.19 442.29 376.56 445.47 376.93 448.64 377.31 451.78 377.70 454.91 378.09 458.02 378.49 461.11 378.90 464.17 379.31 467.22 379.73 470.25 380.15 473.26 380.58 476.25 381.02 479.23 381.47 482.18 381.92 485.11 382.38 488.03 382.84 490.92 383.31 493.80 383.79 496.66 384.27 499.50 384.76 502.32 385.26 505.13 385.76 507.91 386.27 510.68 386.79 513.42 387.31 516.15 387.84 518.86 388.37 521.56 388.91 524.23 389.46 526.89 390.01 529.53 390.57 532.15 391.14 534.75 391.71 537.33 392.29 539.90 392.87 542.45 393.46 544.98 394.05 547.50 394.66 549.99 395.26 552.47 395.88 554.93 396.50 557.38 397.12 559.81 397.75 562.22 398.39 564.61 399.03 566.99 399.68 569.34 400.33 571.69 400.99 574.01 401.65 576.32 402.32 578.61 402.99 580.88 403.67 583.14 404.36 585.38 405.05 587.61 405.75 589.82 406.45 592.01 407.15 594.18 407.86 596.34 408.58 598.49 409.30 600.61 410.03 602.72 410.76 604.82 411.49 606.90 412.23 608.96 412.98 611.01 413.73 613.04 414.48 615.05 415.24 617.05 416.00 619.04 416.77 621.00 417.54 622.96 418.32 624.89 419.10 626.82 419.88 628.72 420.67 630.61 421.46 632.49 422.26 634.35 423.06 636.20 423.87 638.03 424.68 639.85 425.49 641.65 426.30 643.43 427.13 645.20 427.95 646.96 428.78 648.70 429.61 650.43 430.44 652.15 431.28 653.84 432.12 655.53 432.97 657.20 433.82 658.85 434.67 660.50 435.53 662.12 436.39 663.74 437.25 665.34 438.11 666.92 438.98 668.49 439.85 670.05 440.73 671.59 441.60 673.12 442.48 674.64 443.37 676.14 444.25 677.63 445.14 679.11 446.03 680.57 446.93 682.02 447.82 683.46 448.72 684.88 449.63 686.29 450.53 687.68 451.44 689.07 452.35 690.44 453.26 691.79 454.18 693.14 455.09 694.47 456.01 695.79 456.93 697.09 457.86 698.39 458.78 698.79 459.07M698.79 459.07 699.67 459.71 700.94 460.64 702.19 461.58 703.44 462.51 704.67 463.45 705.89 464.39 707.09 465.33 708.29 466.27 709.47 467.22 710.64 468.16 711.80 469.11 712.95 470.06 714.08 471.02 715.21 471.97 716.32 472.93 717.42 473.88 718.51 474.84 719.58 475.81 720.65 476.77 721.70 477.73 722.75 478.70 723.78 479.67 724.80 480.64 725.81 481.61 726.80 482.58 727.79 483.56 728.77 484.53 729.73 485.51 730.69 486.49 731.63 487.47 732.56 488.46 733.48 489.44 734.40 490.42 735.30 491.41 736.19 492.40 737.07 493.39 737.94 494.38 738.80 495.37 739.65 496.37 740.48 497.36 741.31 498.36 742.13 499.36 742.94 500.36 743.74 501.36 744.53 502.36 745.31 503.36 746.08 504.37 746.84 505.38 747.59 506.38 748.33 507.39 749.06 508.40 749.78 509.42 750.49 510.43 751.20 511.44 751.89 512.46 752.58 513.48 753.25 514.50 753.92 515.52 754.57 516.54 755.22 517.56 755.86 518.58 756.49 519.61 757.12 520.64 757.73 521.66 758.33 522.69 758.93 523.73 759.52 524.76 760.10 525.79 760.67 526.83 761.23 527.86 761.78 528.90 762.33 529.94 762.87 530.98 763.40 532.03 763.92 533.07 764.43 534.12 764.94 535.16 765.44 536.21 765.93 537.26 766.41 538.32 766.88 539.37 767.35 540.42 767.81 541.48 768.26 542.54 768.71 543.60 769.14 544.66 769.57 545.72 770.00 546.79 770.41 547.86 770.82 548.92 771.22 549.99 771.62 551.07 772.01 552.14 772.39 553.22 772.76 554.29 773.13 555.37 773.49 556.46 773.84 557.54 774.19 558.62 774.53 559.71 774.86 560.80 775.19 561.89 775.51 562.99 775.83 564.08 776.14 565.18 776.44 566.28 776.74 567.38 777.03 568.49 777.32 569.59 777.60 570.70 777.87 571.81 778.14 572.93 778.40 574.04 778.66 575.16 778.91 576.28 779.15 577.41 779.39 578.53 779.63 579.66 779.86 580.79 780.08 581.93 780.30 583.06 780.51 584.20 780.72 585.34 780.92 586.49 781.12 587.64 781.32 588.79 781.50 589.94 781.69 591.10 781.87 592.26 782.04 593.42 782.21 594.59 782.38 595.76 782.54 596.93 782.70 598.11 782.85 599.29 783.00 600.47 783.14 601.66 783.28 602.85 783.41 604.04 783.55 605.24 783.67 606.44 783.80 607.64 783.92 608.85 784.03 610.06 784.14 611.28 784.25 612.50 784.36 613.73 784.46 614.95 784.56 616.19 784.65 617.43 784.74 618.67 784.83 619.91 784.91 621.17 785.00 622.42 785.07 623.68 785.15 624.95 785.22 626.22 785.29 627.49 785.36 628.77 785.42 630.06 785.48 631.35 785.54 632.64 785.59 633.95 785.65 635.25 785.70 636.57 785.74 637.88 785.79 639.21 785.83 640.54 785.87 641.87 785.91 643.22 785.95 644.56 785.98 645.92 786.02 647.28 786.05 648.64 786.07 650.02 786.10 651.40 786.13 652.78 786.15 654.18 786.17 655.57 786.19 656.98 786.21 658.39 786.23 659.81 786.24 661.23 786.26 662.66 786.27 664.09 786.28 665.53 786.29 666.98 786.30 668.43 786.31 669.88 786.32 671.33 786.32 672.78 786.33 674.23 786.33 675.68 786.34 677.12 786.34 678.55 786.34 679.97 786.34 681.36 786.35 682.73 786.35 684.05 786.35 685.32 786.35 686.53 786.35 687.63 786.35 688.59 786.35 689.37 786.35 689.80" stroke="#000000" stroke-dasharray="11.48 10.66" stroke-dashoffset="0"/>
<path d="M132.90 285.60 137.79 285.59 142.65 285.59 147.49 285.59 152.31 285.59 157.10 285.59 161.87 285.60 166.61 285.62 171.33 285.63 176.02 285.65 180.69 285.68 185.34 285.71 189.96 285.74 194.56 285.78 199.14 285.82 203.69 285.86 208.22 285.91 212.72 285.96 217.21 286.00 221.66 286.05 226.10 286.10 230.51 286.16 234.90 286.22 239.26 286.28 243.60 286.35 247.92 286.43 252.22 286.51 256.49 286.59 260.74 286.68 264.97 286.78 269.17 286.88 273.36 286.98 277.52 287.09 281.65 287.21 285.77 287.33 289.86 287.46 293.93 287.59 297.98 287.75 302.00 287.93 306.00 288.12 309.98 288.31 313.94 288.52 317.88 288.72 321.80 288.94 325.69 289.16 329.56 289.38 333.41 289.62 337.24 289.85 341.04 290.10 344.83 290.35 348.59 290.61 352.33 290.88 356.05 291.15 359.75 291.43 363.43 291.71 367.08 292.01 370.72 292.31 374.33 292.61 377.93 292.93 381.50 293.25 385.05 293.58 388.58 293.92 392.09 294.26 395.58 294.61 399.05 294.97 402.50 295.34 405.92 295.71 409.33 296.09 412.72 296.48 416.08 296.88 419.43 297.28 422.75 297.69 426.06 298.11 429.34 298.53 432.61 298.96 435.85 299.39 439.08 299.83 442.29 300.28 445.47 300.74 448.64 301.20 451.78 301.68 454.91 302.16 458.02 302.65 461.11 303.14 464.17 303.65 467.22 304.16 470.25 304.68 473.26 305.21 476.25 305.75 479.23 306.29 482.18 306.85 485.11 307.41 488.03 307.98 490.92 308.55 493.80 309.14 496.66 309.73 499.50 310.33 502.32 310.94 505.13 311.56 507.91 312.18 510.68 312.81 513.42 313.45 516.15 314.10 518.86 314.76 521.56 315.42 524.23 316.09 526.89 316.77 529.53 317.45 532.15 318.15 534.75 318.85 537.33 319.55 539.90 320.27 542.45 320.99 544.98 321.72 547.50 322.46 549.99 323.20 552.47 323.96 554.93 324.72 557.38 325.48 559.81 326.25 562.22 327.03 564.61 327.82 566.99 328.62 569.34 329.42 571.69 330.22 574.01 331.04 576.32 331.86 578.61 332.69 580.88 333.52 583.14 334.36 585.38 335.21 587.61 336.06 589.82 336.92 592.01 337.79 594.18 338.66 596.34 339.54 598.49 340.42 600.61 341.31 602.72 342.21 604.82 343.11 606.90 344.02 608.96 344.93 611.01 345.85 613.04 346.78 615.05 347.71 617.05 348.64 619.04 349.59 621.00 350.53 622.96 351.49 624.89 352.44 626.82 353.41 628.72 354.37 630.61 355.35 632.49 356.33 634.35 357.31 636.20 358.30 638.03 359.29 639.85 360.29 641.65 361.29 643.43 362.30 645.20 363.31 646.96 364.33 648.70 365.35 650.43 366.37 652.15 367.40 653.84 368.44 655.53 369.48 657.20 370.52 658.85 371.56 660.50 372.62 662.12 373.67 663.74 374.73 665.34 375.79 666.92 376.86 668.49 377.93 670.05 379.00 671.59 380.08 673.12 381.16 674.64 382.25 676.14 383.33 677.63 384.43 679.11 385.52 680.57 386.62 682.02 387.72 683.46 388.83 684.88 389.94 686.29 391.05 687.68 392.16 689.07 393.28 690.44 394.40 691.79 395.53 693.14 396.65 694.47 397.79 695.79 398.92 697.09 400.05 698.39 401.19 698.79 401.55M698.79 401.55 699.67 402.33 700.94 403.48 702.19 404.62 703.44 405.77 704.67 406.93 705.89 408.08 707.09 409.24 708.29 410.40 709.47 411.56 710.64 412.72 711.80 413.89 712.95 415.06 714.08 416.23 715.21 417.40 716.32 418.58 717.42 419.76 718.51 420.94 719.58 422.12 720.65 423.31 721.70 424.49 722.75 425.68 723.78 426.87 724.80 428.07 725.81 429.26 726.80 430.46 727.79 431.66 728.77 432.86 729.73 434.06 730.69 435.27 731.63 436.47 732.56 437.68 733.48 438.89 734.40 440.11 735.30 441.32 736.19 442.54 737.07 443.76 737.94 444.98 738.80 446.20 739.65 447.42 740.48 448.65 741.31 449.87 742.13 451.10 742.94 452.33 743.74 453.56 744.53 454.80 745.31 456.03 746.08 457.27 746.84 458.51 747.59 459.75 748.33 460.99 749.06 462.24 749.78 463.48 750.49 464.73 751.20 465.98 751.89 467.23 752.58 468.48 753.25 469.74 753.92 470.99 754.57 472.25 755.22 473.51 755.86 474.77 756.49 476.03 757.12 477.30 757.73 478.56 758.33 479.83 758.93 481.10 759.52 482.37 760.10 483.65 760.67 484.92 761.23 486.20 761.78 487.48 762.33 488.76 762.87 490.04 763.40 491.33 763.92 492.61 764.43 493.90 764.94 495.19 765.44 496.48 765.93 497.78 766.41 499.07 766.88 500.37 767.35 501.67 767.81 502.97 768.26 504.28 768.71 505.59 769.14 506.89 769.57 508.20 770.00 509.52 770.41 510.83 770.82 512.15 771.22 513.47 771.62 514.79 772.01 516.11 772.39 517.44 772.76 518.77 773.13 520.10 773.49 521.43 773.84 522.77 774.19 524.11 774.53 525.45 774.86 526.79 775.19 528.14 775.51 529.49 775.83 530.84 776.14 532.19 776.44 533.55 776.74 534.91 777.03 536.27 777.32 537.63 777.60 539.00 777.87 540.37 778.14 541.75 778.40 543.12 778.66 544.50 778.91 545.89 779.15 547.27 779.39 548.66 779.63 550.06 779.86 551.45 780.08 552.85 780.30 554.26 780.51 555.66 780.72 557.07 780.92 558.49 781.12 559.91 781.32 561.33 781.50 562.75 781.69 564.18 781.87 565.62 782.04 567.05 782.21 568.49 782.38 569.94 782.54 571.39 782.70 572.84 782.85 574.30 783.00 575.77 783.14 577.23 783.28 578.70 783.41 580.18 783.55 581.66 783.67 583.15 783.80 584.64 783.92 586.14 784.03 587.64 784.14 589.15 784.25 590.66 784.36 592.18 784.46 593.70 784.56 595.23 784.65 596.76 784.74 598.30 784.83 599.85 784.91 601.40 785.00 602.96 785.07 604.53 785.15 606.10 785.22 607.68 785.29 609.26 785.36 610.86 785.42 612.45 785.48 614.06 785.54 615.68 785.59 617.30 785.65 618.93 785.70 620.56 785.74 622.21 785.79 623.86 785.83 625.52 785.87 627.19 785.91 628.87 785.95 630.56 785.98 632.26 786.02 633.96 786.05 635.68 786.07 637.41 786.10 639.14 786.13 640.89 786.15 642.64 786.17 644.41 786.19 646.19 786.21 647.98 786.23 649.77 786.24 651.58 786.26 653.41 786.27 655.24 786.28 657.08 786.29 658.93 786.30 660.80 786.31 662.67 786.32 664.56 786.32 666.45 786.33 668.35 786.33 670.25 786.34 672.16 786.34 674.06 786.34 675.96 786.34 677.84 786.35 679.71 786.35 681.54 786.35 683.32 786.35 685.02 786.35 686.60 786.35 688.01 786.35 689.15 786.35 689.80" stroke="#ff0000" stroke-dasharray="11.48 10.66" stroke-dashoffset="0"/>
</g>
<path d="M233.9 119.9H356.2" stroke="#0000ff" stroke-dasharray="11.48 10.66"/>
<path d="M614.5 118.8H742" stroke="#0000ff"/>
<path d="M233.9 147.8H356.2" stroke="#000000" stroke-dasharray="11.48 10.66"/>
<path d="M614.5 146.8H742" stroke="#000000"/>
<path d="M233.9 175.7H356.2" stroke="#ff0000" stroke-dasharray="11.48 10.66"/>
<path d="M614.5 174.8H742" stroke="#ff0000"/>
</g>
<g fill="none" stroke="#000" stroke-linecap="butt" stroke-linejoin="round">
<g transform="translate(102.93 742.40) scale(1.1550 1.1500) translate(0 -9)" stroke-width="1.217"><use href="#g0" x="0"/><use href="#g10" x="20"/><use href="#g0" x="30"/></g>
<g transform="translate(233.62 742.40) scale(1.1550 1.1500) translate(0 -9)" stroke-width="1.217"><use href="#g0" x="0"/><use href="#g10" x="20"/><use href="#g2" x="30"/></g>
<g transform="translate(364.31 742.40) scale(1.1550 1.1500) translate(0 -9)" stroke-width="1.217"><use href="#g0" x="0"/><use href="#g10" x="20"/><use href="#g4" x="30"/></g>
<g transform="translate(495.00 742.40) scale(1.1550 1.1500) translate(0 -9)" stroke-width="1.217"><use href="#g0" x="0"/><use href="#g10" x="20"/><use href="#g6" x="30"/></g>
<g transform="translate(625.69 742.40) scale(1.1550 1.1500) translate(0 -9)" stroke-width="1.217"><use href="#g0" x="0"/><use href="#g10" x="20"/><use href="#g8" x="30"/></g>
<g transform="translate(756.38 742.40) scale(1.1550 1.1500) translate(0 -9)" stroke-width="1.217"><use href="#g1" x="0"/><use href="#g10" x="20"/><use href="#g0" x="30"/></g>
<g transform="translate(97.20 689.50) scale(1.1550 1.1500) translate(0 -9)" stroke-width="1.217"><use href="#g0" x="0"/></g>
<g transform="translate(97.20 579.60) scale(1.1550 1.1500) translate(0 -9)" stroke-width="1.217"><use href="#g5" x="0"/></g>
<g transform="translate(74.10 455.60) scale(1.1550 1.1500) translate(0 -9)" stroke-width="1.217"><use href="#g1" x="0"/><use href="#g0" x="20"/></g>
<g transform="translate(74.10 331.55) scale(1.1550 1.1500) translate(0 -9)" stroke-width="1.217"><use href="#g1" x="0"/><use href="#g5" x="20"/></g>
<g transform="translate(74.10 207.50) scale(1.1550 1.1500) translate(0 -9)" stroke-width="1.217"><use href="#g2" x="0"/><use href="#g0" x="20"/></g>
<g transform="translate(74.10 94.10) scale(1.1550 1.1500) translate(0 -9)" stroke-width="1.217"><use href="#g2" x="0"/><use href="#g5" x="20"/></g>
<g transform="translate(41.80 381.00) rotate(-90) translate(-11.92 0) scale(1.1350 1.1350) translate(0 -9)" stroke-width="1.233"><use href="#g14" x="0"/></g>
<g transform="translate(428.80 786.80) scale(1.1460 1.1460) translate(0 -9)" stroke-width="1.222"><use href="#g16" x="0"/></g>
<g transform="translate(460.60 797.10) scale(0.7250 0.7250) translate(0 -9)" stroke-width="1.931"><use href="#g12" x="0"/><use href="#g2" x="20"/></g>
</g><g fill="#000" stroke="#fff" stroke-width="0.55" stroke-linejoin="round">
<path transform="translate(141.195 108.264) scale(0.01519 -0.01748)" vector-effect="non-scaling-stroke" d="M127 532Q127 821 217.5 1051.0Q308 1281 496 1484H670Q483 1276 395.5 1042.0Q308 808 308 530Q308 253 394.5 20.0Q481 -213 670 -424H496Q307 -220 217.0 10.5Q127 241 127 528Z"/>
<path transform="translate(154.298 107.605) scale(0.01526 -0.01350)" vector-effect="non-scaling-stroke" d="M414 -20Q251 -20 169.0 66.0Q87 152 87 302Q87 470 197.5 560.0Q308 650 554 656L797 660V719Q797 851 741.0 908.0Q685 965 565 965Q444 965 389.0 924.0Q334 883 323 793L135 810Q181 1102 569 1102Q773 1102 876.0 1008.5Q979 915 979 738V272Q979 192 1000.0 151.5Q1021 111 1080 111Q1106 111 1139 118V6Q1071 -10 1000 -10Q900 -10 854.5 42.5Q809 95 803 207H797Q728 83 636.5 31.5Q545 -20 414 -20ZM455 115Q554 115 631.0 160.0Q708 205 752.5 283.5Q797 362 797 445V534L600 530Q473 528 407.5 504.0Q342 480 307.0 430.0Q272 380 272 299Q272 211 319.5 163.0Q367 115 455 115Z"/>
<path transform="translate(175.138 108.264) scale(0.01556 -0.01748)" vector-effect="non-scaling-stroke" d="M555 528Q555 239 464.5 9.0Q374 -221 186 -424H12Q200 -214 287.0 18.5Q374 251 374 530Q374 809 286.5 1042.0Q199 1275 12 1484H186Q375 1280 465.0 1049.5Q555 819 555 532Z"/>
</g><g fill="none" stroke="#000" stroke-linecap="butt" stroke-linejoin="round">
<g transform="translate(378.52 127.20) scale(0.7750 0.7600) translate(0 -9)" stroke-width="1.908"><use href="#g13" x="0"/><use href="#g11" x="23"/><use href="#g1" x="49"/><use href="#g0" x="69"/><use href="#g0" x="89"/></g>
<g transform="translate(416.50 155.20) scale(0.7750 0.7600) translate(0 -9)" stroke-width="1.908"><use href="#g2" x="0"/><use href="#g0" x="20"/><use href="#g0" x="40"/></g>
<g transform="translate(416.50 183.20) scale(0.7750 0.7600) translate(0 -9)" stroke-width="1.908"><use href="#g3" x="0"/><use href="#g0" x="20"/><use href="#g0" x="40"/></g>
<g transform="translate(514.92 125.70) scale(0.7750 0.7600) translate(0 -9)" stroke-width="1.908"><use href="#g15" x="0"/><use href="#g11" x="19"/><use href="#g1" x="45"/><use href="#g0" x="65"/><use href="#g0" x="85"/></g>
<g transform="translate(549.80 153.70) scale(0.7750 0.7600) translate(0 -9)" stroke-width="1.908"><use href="#g2" x="0"/><use href="#g0" x="20"/><use href="#g0" x="40"/></g>
<g transform="translate(549.80 181.70) scale(0.7750 0.7600) translate(0 -9)" stroke-width="1.908"><use href="#g3" x="0"/><use href="#g0" x="20"/><use href="#g0" x="40"/></g>
</g>
</svg></body></html>
